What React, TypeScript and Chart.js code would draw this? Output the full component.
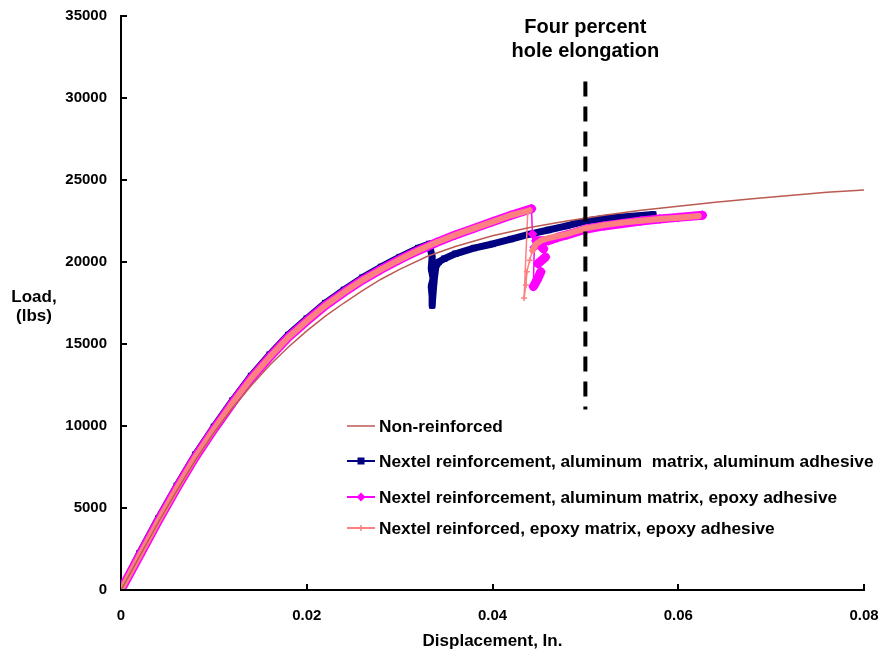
import React, { useEffect, useRef } from 'react';
import { Chart, registerables } from 'chart.js';

Chart.register(...registerables);

// ---- axis ticks ----
const X_TICKS = [0, 0.02, 0.04, 0.06, 0.08];
const Y_TICKS = [0, 5000, 10000, 15000, 20000, 25000, 30000, 35000];

// ---- labels ----
const SERIES_LABELS = [
  'Non-reinforced',
  'Nextel reinforcement, aluminum  matrix, aluminum adhesive',
  'Nextel reinforcement, aluminum matrix, epoxy adhesive',
  'Nextel reinforced, epoxy matrix, epoxy adhesive',
];
const X_TITLE = 'Displacement, In.';
const Y_TITLE_LINES = ['Load,', '(lbs)'];
const ANNOTATION_LINES = ['Four percent', 'hole elongation'];

// ---- series: Non-reinforced ----
const NONREINF_X = [0, 0.002, 0.004, 0.006, 0.008, 0.010, 0.012, 0.014, 0.016, 0.018, 0.020, 0.022, 0.024, 0.026, 0.028, 0.030, 0.033, 0.036, 0.040, 0.044, 0.048, 0.052, 0.056, 0.060, 0.064, 0.068, 0.072, 0.076, 0.0805];
const NONREINF_Y = [0, 2050, 4100, 6050, 7900, 9600, 11100, 12450, 13700, 14800, 15800, 16700, 17500, 18250, 18950, 19550, 20350, 20950, 21600, 22100, 22500, 22850, 23150, 23400, 23650, 23850, 24050, 24250, 24400];

// ---- series: Nextel, aluminum matrix, aluminum adhesive ----
const ALAL_X = [0, 0.002, 0.004, 0.006, 0.008, 0.010, 0.012, 0.014, 0.016, 0.018, 0.020, 0.022, 0.024, 0.026, 0.028, 0.030, 0.032, 0.0332, 0.0335, 0.0334, 0.0336, 0.0334, 0.0335, 0.0335, 0.0337, 0.0339, 0.0342, 0.0348, 0.036, 0.038, 0.040, 0.042, 0.044, 0.046, 0.048, 0.050, 0.052, 0.054, 0.0573];
const ALAL_Y = [0, 2250, 4350, 6350, 8250, 9950, 11550, 13050, 14350, 15550, 16550, 17500, 18300, 19050, 19700, 20300, 20850, 21100, 20300, 19600, 19000, 18500, 17900, 17350, 18800, 19700, 20000, 20200, 20500, 20850, 21100, 21400, 21700, 21950, 22200, 22500, 22650, 22750, 22900];

// ---- series: Nextel, aluminum matrix, epoxy adhesive ----
const ALEP_X = [0, 0.002, 0.004, 0.006, 0.008, 0.010, 0.012, 0.014, 0.016, 0.018, 0.020, 0.022, 0.024, 0.026, 0.028, 0.030, 0.032, 0.034, 0.036, 0.038, 0.040, 0.042, 0.0442, 0.0443, 0.0445, 0.0444, 0.0448, 0.0452, 0.0449, 0.0457, 0.0455, 0.0447, 0.046, 0.047, 0.048, 0.050, 0.052, 0.054, 0.056, 0.058, 0.060, 0.0626];
const ALEP_Y = [0, 2100, 4200, 6200, 8100, 9800, 11400, 12900, 14200, 15400, 16400, 17350, 18150, 18900, 19550, 20150, 20700, 21200, 21650, 22050, 22450, 22850, 23250, 21700, 20900, 18500, 18900, 19400, 19900, 20300, 20800, 21300, 21300, 21500, 21650, 22000, 22200, 22350, 22500, 22620, 22720, 22850];

// ---- series: Nextel reinforced, epoxy matrix, epoxy adhesive ----
const EPEP_X = [0, 0.002, 0.004, 0.006, 0.008, 0.010, 0.012, 0.014, 0.016, 0.018, 0.020, 0.022, 0.024, 0.026, 0.028, 0.030, 0.032, 0.034, 0.036, 0.038, 0.040, 0.042, 0.044, 0.0438, 0.0434, 0.0436, 0.0437, 0.0440, 0.0443, 0.0447, 0.0452, 0.046, 0.048, 0.050, 0.052, 0.054, 0.056, 0.058, 0.060, 0.0622];
const EPEP_Y = [0, 2100, 4200, 6200, 8100, 9800, 11400, 12900, 14200, 15400, 16400, 17350, 18150, 18900, 19550, 20150, 20700, 21200, 21650, 22050, 22450, 22850, 23150, 23100, 17800, 18600, 19400, 20100, 20700, 21100, 21300, 21450, 21700, 22050, 22250, 22400, 22520, 22620, 22700, 22800];

// ---- four percent elongation marker ----
const ELONG_X = [0.05, 0.05];
const ELONG_Y = [31000, 11000];
const ANNOTATION_Y = [34300, 32850];

const FONT = '"Liberation Sans", Arial, sans-serif';
const C_RED = '#BC5A52';
const C_NAVY = '#000080';
const C_MAG = '#FF00FF';
const C_PINK = '#FF8080';

const pts = (xs: number[], ys: number[]) => xs.map((x, i) => ({ x, y: ys[i] }));

const thinSteep = (ctx: any) => {
  const dx = Math.abs(ctx.p1.x - ctx.p0.x);
  const dy = Math.abs(ctx.p1.y - ctx.p0.y);
  return dy > 6 && dy > 2.5 * dx ? 1.5 : undefined;
};

function drawMarker(ctx: CanvasRenderingContext2D, kind: string, x: number, y: number, color: string) {
  ctx.save();
  ctx.fillStyle = color;
  ctx.strokeStyle = color;
  if (kind === 'square') {
    ctx.fillRect(x - 3.5, y - 3.5, 7, 7);
  } else if (kind === 'diamond') {
    ctx.beginPath();
    ctx.moveTo(x, y - 4.5);
    ctx.lineTo(x + 4.5, y);
    ctx.lineTo(x, y + 4.5);
    ctx.lineTo(x - 4.5, y);
    ctx.closePath();
    ctx.fill();
  } else if (kind === 'cross') {
    ctx.lineWidth = 1.5;
    ctx.beginPath();
    ctx.moveTo(x - 3, y);
    ctx.lineTo(x + 3, y);
    ctx.moveTo(x, y - 3);
    ctx.lineTo(x, y + 3);
    ctx.stroke();
  }
  ctx.restore();
}

const decorPlugin = {
  id: 'decor',
  afterDraw(chart: any) {
    const { ctx, chartArea, scales } = chart;
    const xs = scales.x;
    const ys = scales.y;
    ctx.save();
    // inward tick marks
    ctx.strokeStyle = '#000';
    ctx.lineWidth = 2;
    Y_TICKS.forEach((v) => {
      const py = Math.round(ys.getPixelForValue(v));
      ctx.beginPath();
      ctx.moveTo(chartArea.left, py);
      ctx.lineTo(chartArea.left + 6, py);
      ctx.stroke();
    });
    X_TICKS.slice(1).forEach((v) => {
      const px = Math.round(xs.getPixelForValue(v));
      ctx.beginPath();
      ctx.moveTo(px, chartArea.bottom);
      ctx.lineTo(px, chartArea.bottom - 6);
      ctx.stroke();
    });

    // axis titles
    ctx.fillStyle = '#000';
    ctx.textAlign = 'center';
    ctx.textBaseline = 'middle';
    ctx.font = `bold 17px ${FONT}`;
    ctx.fillText(X_TITLE, (chartArea.left + chartArea.right) / 2, 641);
    ctx.fillText(Y_TITLE_LINES[0], 34, 297);
    ctx.fillText(Y_TITLE_LINES[1], 34, 316);

    // annotation
    ctx.font = `bold 20px ${FONT}`;
    const ax = xs.getPixelForValue(ELONG_X[0]);
    ANNOTATION_LINES.forEach((t, i) => ctx.fillText(t, ax, ys.getPixelForValue(ANNOTATION_Y[i])));

    // legend
    const rows = [426, 461, 497, 528];
    const colors = [C_RED, C_NAVY, C_MAG, C_PINK];
    const markers = ['none', 'square', 'diamond', 'cross'];
    const widths = [1.5, 2, 2, 2];
    ctx.font = `bold 17.3px ${FONT}`;
    ctx.textAlign = 'left';
    SERIES_LABELS.forEach((label, i) => {
      const y = rows[i];
      ctx.strokeStyle = colors[i];
      ctx.lineWidth = widths[i];
      ctx.beginPath();
      ctx.moveTo(347, y);
      ctx.lineTo(375, y);
      ctx.stroke();
      drawMarker(ctx, markers[i], 361, y, colors[i]);
      ctx.fillStyle = '#000';
      ctx.fillText(label, 379, y + 1);
    });
    ctx.restore();
  },
};

export default function App() {
  const ref = useRef<HTMLCanvasElement>(null);
  useEffect(() => {
    document.body.style.margin = '0';
    const canvas = ref.current;
    if (!canvas) return;
    const chart = new Chart(canvas, {
      type: 'line',
      data: {
        datasets: [
          {
            label: SERIES_LABELS[0],
            data: pts(NONREINF_X, NONREINF_Y),
            borderColor: C_RED,
            backgroundColor: C_RED,
            borderWidth: 1.5,
            pointRadius: 0,
            order: 0,
          },
          {
            label: SERIES_LABELS[1],
            data: pts(ALAL_X, ALAL_Y),
            borderColor: C_NAVY,
            backgroundColor: C_NAVY,
            borderWidth: 7,
            borderJoinStyle: 'round',
            borderCapStyle: 'round',
            pointStyle: 'rect',
            pointRadius: 4.5,
            pointBorderWidth: 0,
            order: 3,
          },
          {
            label: SERIES_LABELS[2],
            data: pts(ALEP_X, ALEP_Y),
            borderColor: C_MAG,
            backgroundColor: C_MAG,
            borderWidth: 9,
            borderJoinStyle: 'round',
            borderCapStyle: 'round',
            pointStyle: 'rectRot',
            pointRadius: 5,
            pointBorderWidth: 0,
            segment: { borderWidth: thinSteep },
            order: 2,
          },
          {
            label: SERIES_LABELS[3],
            data: pts(EPEP_X, EPEP_Y),
            borderColor: C_PINK,
            backgroundColor: C_PINK,
            borderWidth: 6,
            borderJoinStyle: 'round',
            borderCapStyle: 'round',
            pointStyle: 'cross',
            pointRadius: 3,
            pointBorderWidth: 1.5,
            pointBorderColor: C_PINK,
            segment: { borderWidth: thinSteep },
            order: 1,
          },
          {
            label: 'elongation',
            data: pts(ELONG_X, ELONG_Y),
            borderColor: '#000',
            borderWidth: 4,
            borderDash: [15, 10],
            pointRadius: 0,
            order: -1,
          },
        ],
      } as any,
      options: {
        responsive: false,
        animation: false,
        layout: { padding: { left: 0, top: 16, right: 19, bottom: 0 } },
        plugins: {
          legend: { display: false },
          tooltip: { enabled: false },
        },
        elements: { line: { tension: 0 } },
        scales: {
          x: {
            type: 'linear',
            min: 0,
            max: 0.08,
            afterFit: (s: any) => {
              s.height = 68;
              s.paddingLeft = 0;
              s.paddingRight = 0;
              s.paddingTop = 0;
              s.paddingBottom = 0;
            },
            afterBuildTicks: (s: any) => { s.ticks = X_TICKS.map((v) => ({ value: v })); },
            grid: { display: true, drawOnChartArea: false, drawTicks: false },
            border: { display: true, color: '#000', width: 2 },
            ticks: {
              padding: 17,
              color: '#000',
              font: { family: FONT, size: 15, weight: 'bold' },
              callback: (v: any) => String(v),
            },
          },
          y: {
            type: 'linear',
            min: 0,
            max: 35000,
            afterFit: (s: any) => {
              s.width = 121;
              s.paddingLeft = 0;
              s.paddingRight = 0;
              s.paddingTop = 0;
              s.paddingBottom = 0;
            },
            afterBuildTicks: (s: any) => { s.ticks = Y_TICKS.map((v) => ({ value: v })); },
            grid: { display: true, drawOnChartArea: false, drawTicks: false },
            border: { display: true, color: '#000', width: 2 },
            ticks: {
              padding: 14,
              color: '#000',
              font: { family: FONT, size: 15, weight: 'bold' },
              callback: (v: any) => String(v),
            },
          },
        },
      } as any,
      plugins: [decorPlugin],
    });
    return () => chart.destroy();
  }, []);
  return (
    <div style={{ width: 883, height: 658 }}>
      <canvas ref={ref} width={883} height={658} style={{ display: 'block' }} />
    </div>
  );
}
